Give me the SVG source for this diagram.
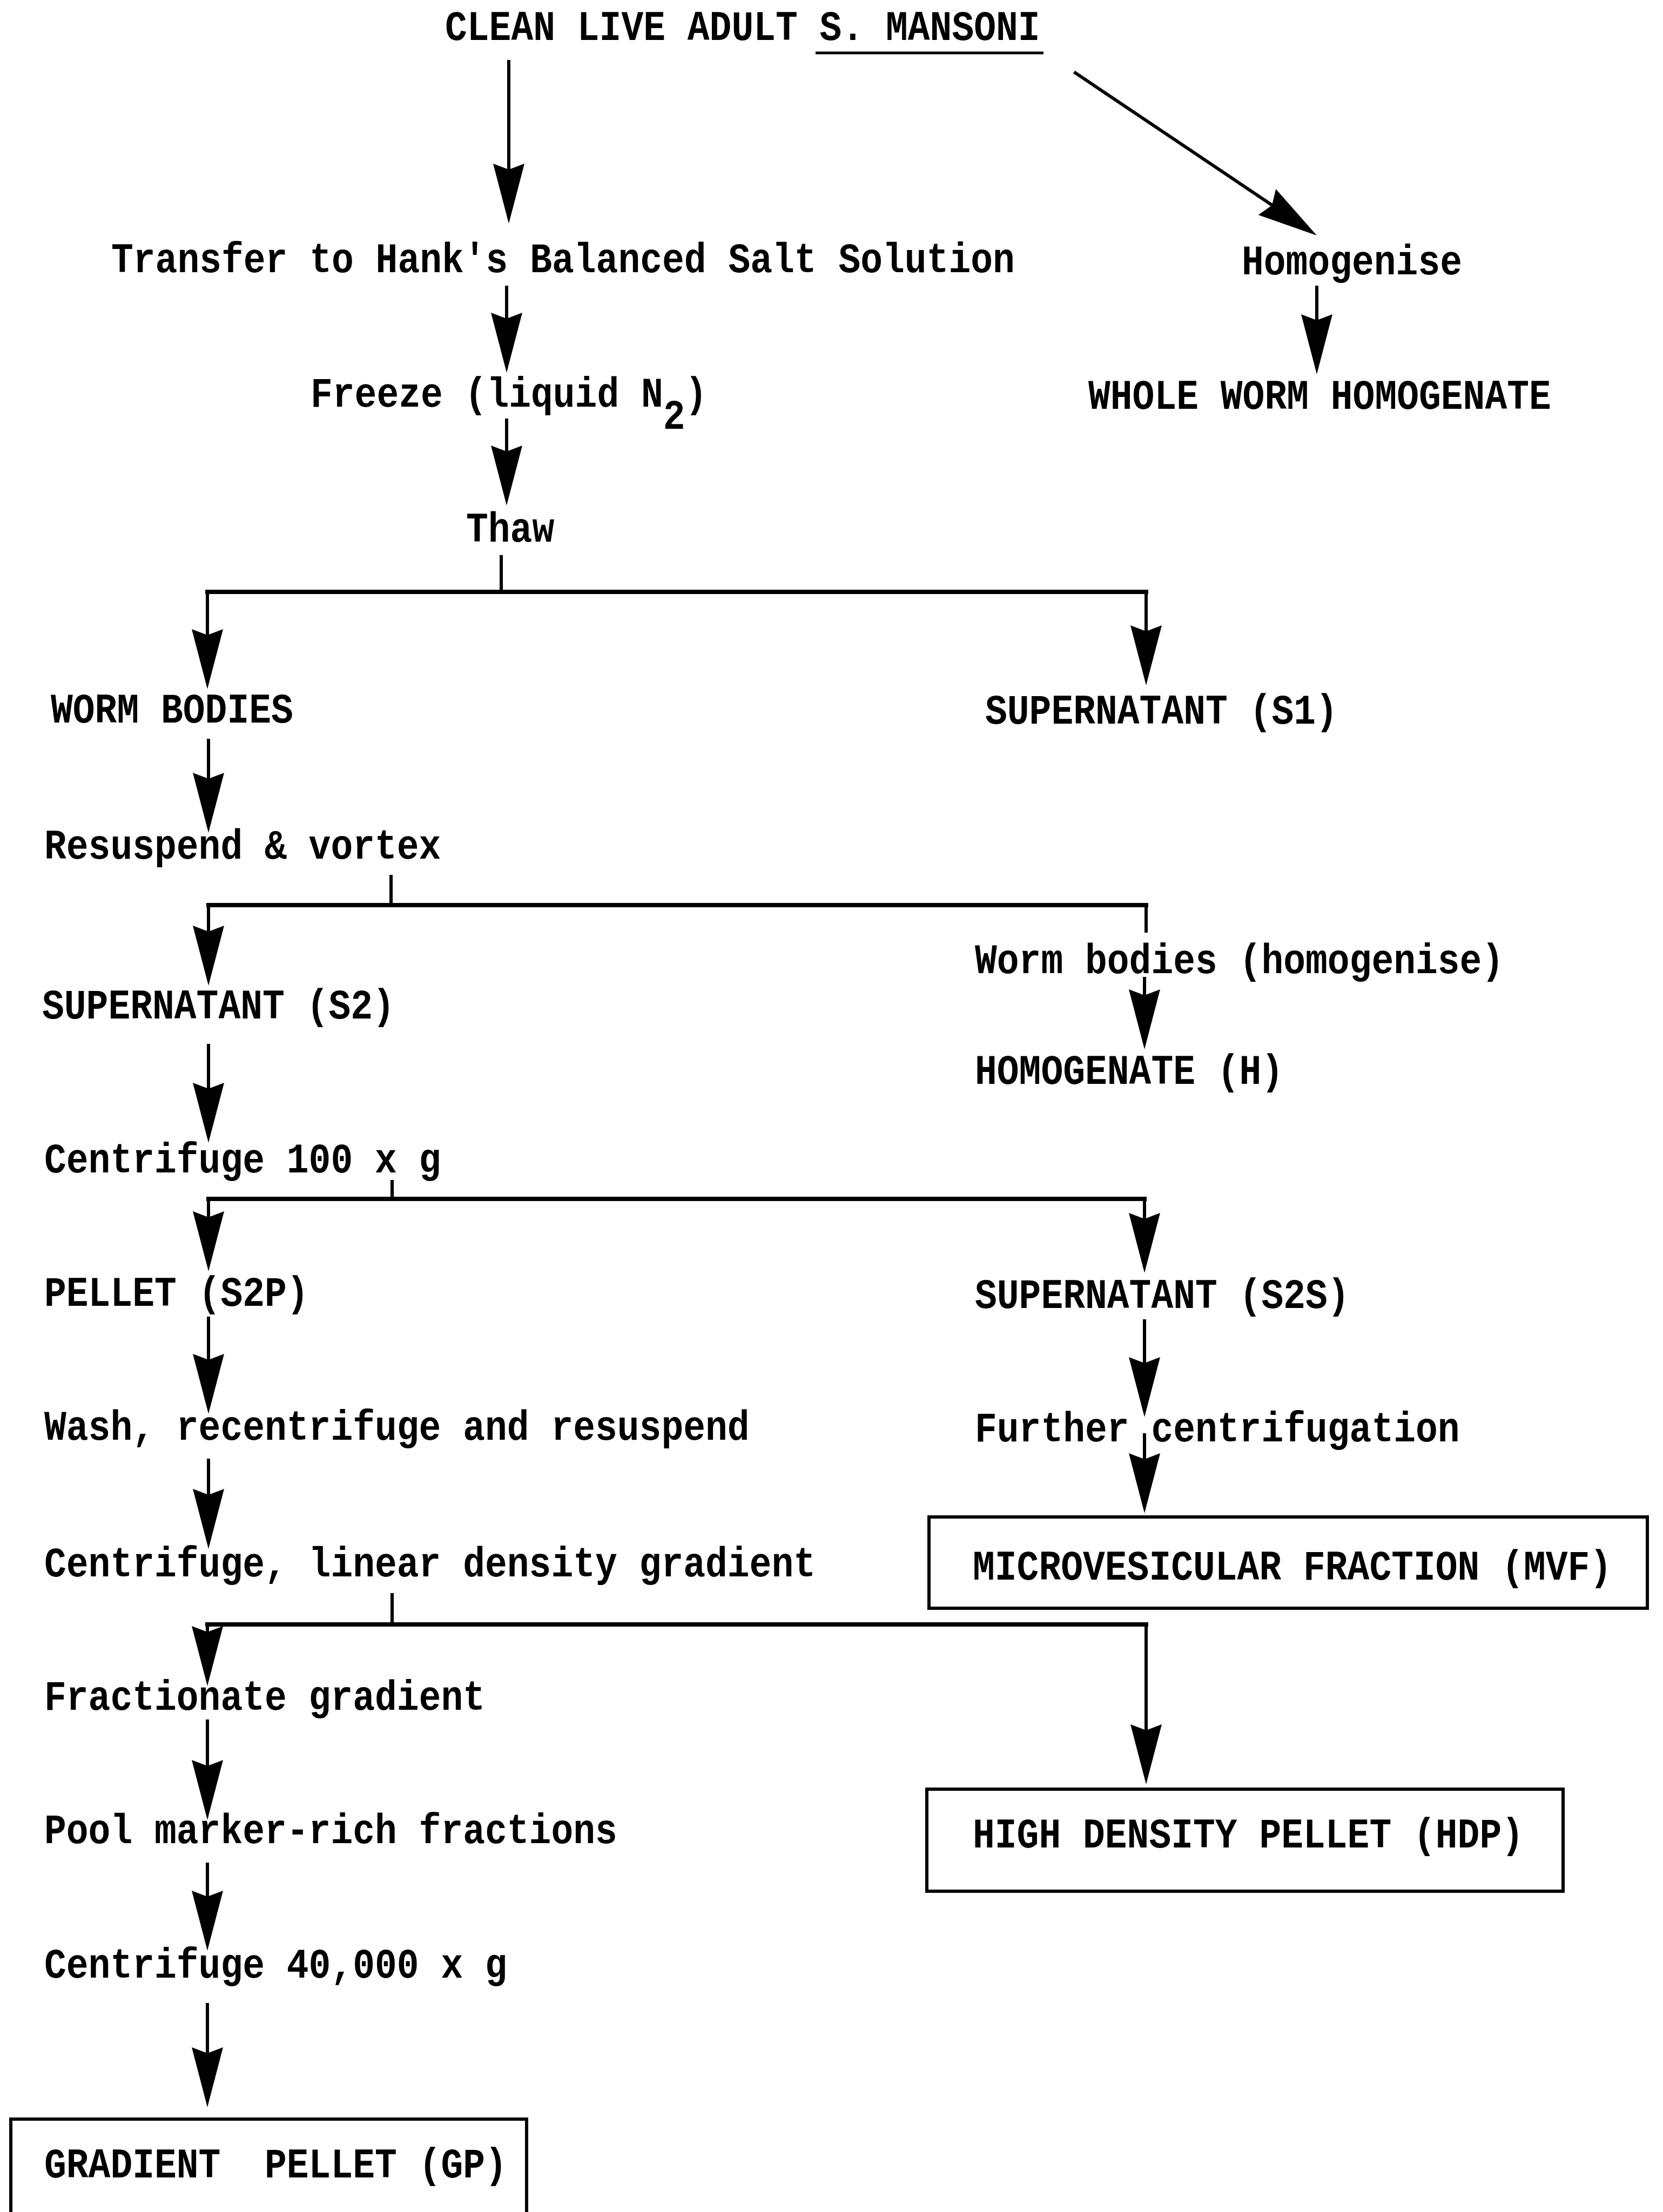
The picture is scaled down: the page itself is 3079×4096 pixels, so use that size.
<svg xmlns="http://www.w3.org/2000/svg" xmlns:xlink="http://www.w3.org/1999/xlink" width="3079" height="4096" viewBox="0 0 3079 4096">
<style>
text{font-family:"Liberation Mono","Courier New",monospace;font-size:68px;font-weight:bold;fill:#000;white-space:pre}
.c line{stroke:#000;stroke-width:6;stroke-linecap:square;fill:none}
.c .h{stroke-width:8}
.box{fill:none;stroke:#000;stroke-width:6}
</style>
<defs>
<path id="ah" d="M0,0 L-29,-111 L0,-100 L29,-111 Z" fill="#000"/>
</defs>
<rect width="3079" height="4096" fill="#fff"/>
<g id="connectors" class="c">
<line x1="942" y1="114" x2="942" y2="330"/><use xlink:href="#ah" x="942" y="414"/>
<line x1="1991" y1="135" x2="2360" y2="383"/><use xlink:href="#ah" transform="translate(2438,436) rotate(-56)"/>
<line x1="938" y1="532" x2="938" y2="610"/><use xlink:href="#ah" x="938" y="690"/>
<line x1="2438" y1="532" x2="2438" y2="610"/><use xlink:href="#ah" x="2438" y="693"/>
<line x1="938" y1="778" x2="938" y2="860"/><use xlink:href="#ah" x="938" y="936"/>
<line x1="928" y1="1031" x2="928" y2="1096"/>
<line class="h" x1="384" y1="1096" x2="2122" y2="1096"/>
<line x1="384" y1="1096" x2="384" y2="1190"/><use xlink:href="#ah" x="384" y="1276"/>
<line x1="2122" y1="1096" x2="2122" y2="1190"/><use xlink:href="#ah" x="2122" y="1269"/>
<line x1="386" y1="1371" x2="386" y2="1460"/><use xlink:href="#ah" x="386" y="1542"/>
<line x1="724" y1="1623" x2="724" y2="1676"/>
<line class="h" x1="386" y1="1676" x2="2122" y2="1676"/>
<line x1="386" y1="1676" x2="386" y2="1740"/><use xlink:href="#ah" x="386" y="1825"/>
<line x1="2122" y1="1676" x2="2122" y2="1724"/>
<line x1="2119" y1="1812" x2="2119" y2="1860"/><use xlink:href="#ah" x="2119" y="1943"/>
<line x1="386" y1="1936" x2="386" y2="2030"/><use xlink:href="#ah" x="386" y="2116"/>
<line x1="726" y1="2188" x2="726" y2="2220"/>
<line class="h" x1="386" y1="2220" x2="2119" y2="2220"/>
<line x1="386" y1="2220" x2="386" y2="2270"/><use xlink:href="#ah" x="386" y="2354"/>
<line x1="2119" y1="2220" x2="2119" y2="2270"/><use xlink:href="#ah" x="2119" y="2357"/>
<line x1="386" y1="2441" x2="386" y2="2530"/><use xlink:href="#ah" x="386" y="2618"/>
<line x1="2119" y1="2446" x2="2119" y2="2540"/><use xlink:href="#ah" x="2119" y="2624"/>
<line x1="386" y1="2704" x2="386" y2="2780"/><use xlink:href="#ah" x="386" y="2868"/>
<line x1="2119" y1="2657" x2="2119" y2="2720"/><use xlink:href="#ah" x="2119" y="2802"/>
<line x1="726" y1="2953" x2="726" y2="3008"/>
<line class="h" x1="384" y1="3008" x2="2122" y2="3008"/>
<line x1="384" y1="3008" x2="384" y2="3040"/><use xlink:href="#ah" x="384" y="3122"/>
<line x1="2122" y1="3008" x2="2122" y2="3220"/><use xlink:href="#ah" x="2122" y="3304"/>
<line x1="384" y1="3187" x2="384" y2="3290"/><use xlink:href="#ah" x="384" y="3370"/>
<line x1="384" y1="3452" x2="384" y2="3530"/><use xlink:href="#ah" x="384" y="3612"/>
<line x1="384" y1="3712" x2="384" y2="3820"/><use xlink:href="#ah" x="384" y="3902"/>
</g>
<g id="n-start"><text transform="translate(824 74) scale(1 1.15)">CLEAN LIVE ADULT S. MANSONI</text><line x1="1510" y1="98" x2="1932" y2="98" stroke="#000" stroke-width="5"/></g>
<g id="n-transfer"><text transform="translate(206 504) scale(1 1.15)">Transfer to Hank's Balanced Salt Solution</text></g>
<g id="n-homogenise"><text transform="translate(2299 508) scale(1 1.15)">Homogenise</text></g>
<g id="n-freeze"><text transform="translate(575 753) scale(1 1.15)">Freeze (liquid N<tspan dy="36">2</tspan><tspan dy="-36">)</tspan></text></g>
<g id="n-wwh"><text transform="translate(2015 757) scale(1 1.15)">WHOLE WORM HOMOGENATE</text></g>
<g id="n-thaw"><text transform="translate(863 1003) scale(1 1.15)">Thaw</text></g>
<g id="n-wormbodies"><text transform="translate(94 1338) scale(1 1.15)">WORM BODIES</text></g>
<g id="n-s1"><text transform="translate(1824 1340) scale(1 1.15)">SUPERNATANT (S1)</text></g>
<g id="n-resuspend"><text transform="translate(82 1590) scale(1 1.15)">Resuspend &amp; vortex</text></g>
<g id="n-wbhom"><text transform="translate(1805 1802) scale(1 1.15)">Worm bodies (homogenise)</text></g>
<g id="n-s2"><text transform="translate(78 1886) scale(1 1.15)">SUPERNATANT (S2)</text></g>
<g id="n-h"><text transform="translate(1805 2007) scale(1 1.15)">HOMOGENATE (H)</text></g>
<g id="n-c100"><text transform="translate(82 2171) scale(1 1.15)">Centrifuge 100 x g</text></g>
<g id="n-s2p"><text transform="translate(82 2418) scale(1 1.15)">PELLET (S2P)</text></g>
<g id="n-s2s"><text transform="translate(1805 2422) scale(1 1.15)">SUPERNATANT (S2S)</text></g>
<g id="n-wash"><text transform="translate(82 2666) scale(1 1.15)">Wash, recentrifuge and resuspend</text></g>
<g id="n-further"><text transform="translate(1805 2669) scale(1 1.15)">Further centrifugation</text></g>
<g id="n-linear"><text transform="translate(82 2919) scale(1 1.15)">Centrifuge, linear density gradient</text></g>
<g id="n-mvf"><rect class="box" x="1720" y="2809" width="1330" height="169"/><text transform="translate(1801 2925) scale(1 1.15)">MICROVESICULAR FRACTION (MVF)</text></g>
<g id="n-fractionate"><text transform="translate(82 3166) scale(1 1.15)">Fractionate gradient</text></g>
<g id="n-pool"><text transform="translate(82 3413) scale(1 1.15)">Pool marker-rich fractions</text></g>
<g id="n-hdp"><rect class="box" x="1716" y="3313" width="1178" height="189"/><text transform="translate(1801 3421) scale(1 1.15)">HIGH DENSITY PELLET (HDP)</text></g>
<g id="n-c40000"><text transform="translate(82 3662) scale(1 1.15)">Centrifuge 40,000 x g</text></g>
<g id="n-gp"><path class="box" d="M20,4110 V3924 H975 V4110"/><text transform="translate(82 4032) scale(1 1.15)">GRADIENT  PELLET (GP)</text></g>
</svg>
